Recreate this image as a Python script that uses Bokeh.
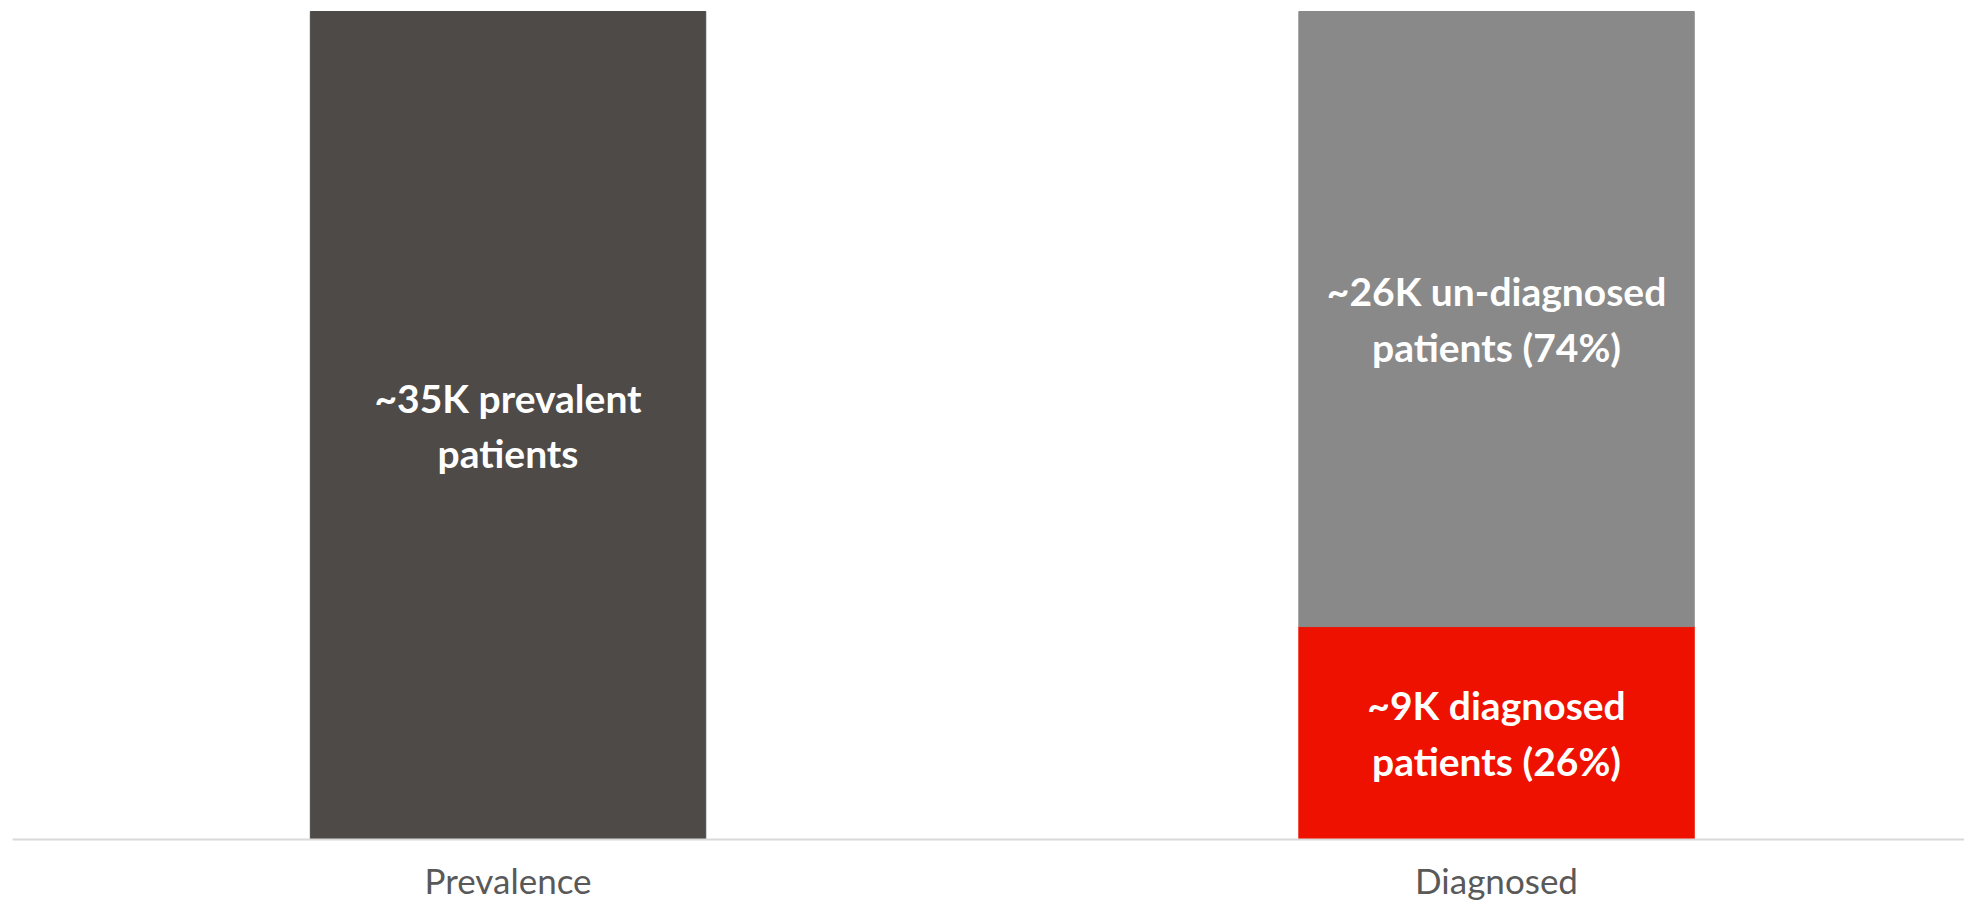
from bokeh.plotting import figure
from bokeh.models import Range1d, FixedTicker
from bokeh.core.properties import value
from bokeh.embed import file_html
from bokeh.resources import INLINE

# Patient counts (thousands) and shares
categories = ["Prevalence", "Diagnosed"]
prevalent_k = [35]
diagnosed_k = [9]
undiagnosed_k = [26]
diagnosed_pct = [26]
undiagnosed_pct = [74]

DARK = "#4e4a48"
GREY = "#898989"
RED = "#ee1100"
AXIS_GREY = "#d9d9d9"
LABEL_GREY = "#595959"

p = figure(
    frame_width=1952, frame_height=839,
    min_border_left=12, min_border_right=0, min_border_top=0, min_border_bottom=61,
    x_range=Range1d(-0.5013, 1.4734), y_range=Range1d(0, 35.465),
    y_axis_location=None, output_backend="svg", toolbar_location=None,
)
p.grid.visible = False
p.outline_line_color = None
p.background_fill_color = "white"
p.border_fill_color = "white"

bar_w = 0.4
x_prev, x_diag = 0, 1

# Prevalence bar
p.vbar(x=[x_prev], top=prevalent_k, bottom=0, width=bar_w, color=DARK)

# Diagnosed bar, stacked: diagnosed at the bottom, un-diagnosed above
diag_top = diagnosed_k[0]
undiag_top = diagnosed_k[0] + undiagnosed_k[0]
p.vbar(x=[x_diag], bottom=0, top=[diag_top], width=bar_w, color=RED)
p.vbar(x=[x_diag], bottom=[diag_top], top=[undiag_top], width=bar_w, color=GREY)

# In-bar labels, centred in each segment
labels = [
    f"~{prevalent_k[0]}K prevalent\npatients",
    f"~{undiagnosed_k[0]}K un-diagnosed\npatients ({undiagnosed_pct[0]}%)",
    f"~{diagnosed_k[0]}K diagnosed\npatients ({diagnosed_pct[0]}%)",
]
lx = [x_prev, x_diag, x_diag]
ly = [prevalent_k[0] / 2, (diag_top + undiag_top) / 2, diag_top / 2]
p.text(
    x=lx, y=ly, text=labels,
    text_font=value("Lato"), text_font_style="bold", text_font_size="39px",
    text_color="white", text_align="center", text_baseline="middle",
    text_line_height=1.2,
)

# Category axis
ax = p.xaxis[0]
ax.ticker = FixedTicker(ticks=[x_prev, x_diag])
ax.major_label_overrides = {x_prev: categories[0], x_diag: categories[1]}
ax.major_label_text_font = "Lato"
ax.major_label_text_font_size = "35px"
ax.major_label_text_color = LABEL_GREY
ax.major_label_standoff = 19
ax.major_tick_line_color = None
ax.minor_tick_line_color = None
ax.major_tick_out = 0
ax.axis_line_color = AXIS_GREY
ax.axis_line_width = 2

open("out.html", "w").write(file_html(p, INLINE))
